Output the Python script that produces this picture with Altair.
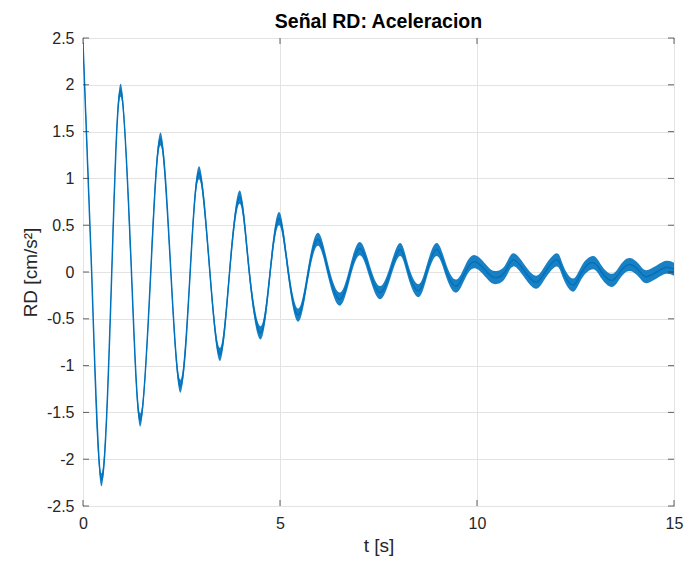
import altair as alt
import pandas as pd

# ---- data ----
t_s = [0, 0.22, 0.47, 0.73, 0.96, 1.23, 1.46, 1.72, 1.97, 2.23, 2.48, 2.72, 2.95, 3.22,
       3.48, 3.72, 3.98, 4.22, 4.51, 4.75, 4.98, 5.21, 5.47, 5.72, 5.97, 6.23, 6.52, 6.78,
       7.03, 7.28, 7.54, 7.8, 8.05, 8.26, 8.51, 8.72, 8.98, 9.23, 9.48, 9.7, 9.95, 10.25,
       10.46, 10.71, 10.92, 11.22, 11.5, 11.73, 12.02, 12.19, 12.44, 12.66, 12.95, 13.16,
       13.42, 13.63, 13.88, 14.14, 14.3, 14.56, 14.8, 15.0]
rd_vals = [2.45, 0, -2.22, 0, 1.94, 0, -1.58, 0, 1.42, 0, -1.22, 0, 1.06, 0,
           -0.88, 0, 0.80, 0, -0.65, 0, 0.57, 0, -0.46, 0, 0.35, 0, -0.29, 0,
           0.25, 0, -0.22, 0, 0.24, 0, -0.20, 0, 0.24, 0, -0.15, 0, 0.11, 0,
           -0.06, 0, 0.13, 0, -0.11, 0, 0.13, 0, -0.14, 0, 0.10, 0,
           -0.09, 0, 0.08, 0, -0.05, 0, 0.05, 0.03]
x_tick_vals = [0, 5, 10, 15]
y_tick_vals = [-2.5, -2, -1.5, -1, -0.5, 0, 0.5, 1, 1.5, 2, 2.5]
title_text = "Señal RD: Aceleracion"
x_title = "t [s]"
y_title = "RD [cm/s²]"

W, H = 591, 468
FONT = "Liberation Sans"
BLUE = "#0072BD"
AXC = "#262626"
NOISE = 0.07

df = pd.DataFrame({"t": t_s, "rd": rd_vals})
xt_df = pd.DataFrame({"v": x_tick_vals})
yt_df = pd.DataFrame({"v": y_tick_vals})

xscale = alt.Scale(domain=[0, 15], nice=False, zero=False)
yscale = alt.Scale(domain=[-2.5, 2.5], nice=False, zero=False)

xaxis = alt.Axis(values=x_tick_vals, grid=True, gridColor="#e3e3e3", gridWidth=1,
                 domain=False, ticks=False, labelFlush=False, labelFont=FONT,
                 labelFontSize=16, labelColor=AXC, labelPadding=9,
                 titleFont=FONT, titleFontSize=19, titleFontWeight="normal",
                 titleColor=AXC, titleX=W / 2, titleY=45, titleAlign="center",
                 titleBaseline="alphabetic")
yaxis = alt.Axis(values=y_tick_vals, grid=True, gridColor="#e3e3e3", gridWidth=1,
                 domain=False, ticks=False, labelFont=FONT, labelFontSize=16,
                 labelColor=AXC, labelPadding=9, labelExpr="datum.value",
                 titleFont=FONT, titleFontSize=19, titleFontWeight="normal",
                 titleColor=AXC, titleX=-47, titleY=H / 2, titleAngle=-90,
                 titleAlign="center", titleBaseline="alphabetic")

def X(field):
    return alt.X(field, scale=xscale, axis=xaxis, title=x_title)

def Y(field):
    return alt.Y(field, scale=yscale, axis=yaxis, title=y_title)

band = alt.Chart(df).transform_calculate(
    lo=f"datum.rd - {NOISE}", hi=f"datum.rd + {NOISE}"
).mark_area(interpolate="natural", color=BLUE, opacity=0.9, clip=True).encode(
    x=X("t:Q"), y=Y("lo:Q"), y2="hi:Q")

line = alt.Chart(df).mark_line(interpolate="natural", color=BLUE, strokeWidth=1.5,
                               clip=True).encode(x=X("t:Q"), y=Y("rd:Q"))

tick_style = dict(color=AXC, thickness=1, size=6)
bt = alt.Chart(xt_df).mark_tick(orient="vertical", **tick_style).encode(
    x=X("v:Q"), y=alt.value(H - 3))
tt = alt.Chart(xt_df).mark_tick(orient="vertical", **tick_style).encode(
    x=X("v:Q"), y=alt.value(3))
lt = alt.Chart(yt_df).mark_tick(orient="horizontal", **tick_style).encode(
    y=Y("v:Q"), x=alt.value(3))
rt = alt.Chart(yt_df).mark_tick(orient="horizontal", **tick_style).encode(
    y=Y("v:Q"), x=alt.value(W - 3))

chart = alt.layer(band, line, bt, tt, lt, rt).properties(
    width=W, height=H,
    title=alt.TitleParams(title_text, font=FONT, fontSize=19.5, fontWeight="bold",
                          color="#000000", anchor="middle", offset=10, dy=27,
                          baseline="alphabetic", frame="group"),
    autosize=alt.AutoSizeParams(type="none"),
    padding={"left": 83, "top": 38, "right": 10, "bottom": 55},
    background="white",
).configure_view(stroke=AXC, strokeWidth=1)

chart.save("out.html", embed_options={"renderer": "svg", "actions": False})
